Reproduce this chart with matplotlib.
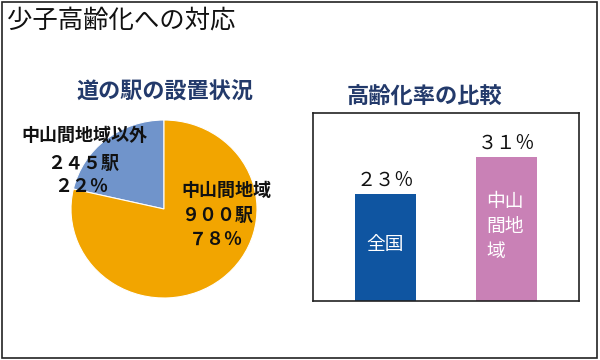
import matplotlib
matplotlib.use("Agg")
import matplotlib.pyplot as plt
from matplotlib.patches import Rectangle

plt.rcParams['font.family'] = ['Noto Sans CJK JP', 'DejaVu Sans']

# ---- data ----
title = "少子高齢化への対応"
pie_title = "道の駅の設置状況"
pie_labels = ["中山間地域以外", "中山間地域"]
pie_counts = [245, 900]
pie_count_text = ["２４５駅", "９００駅"]
pie_pct_text = ["２２％", "７８％"]
pie_colors = ["#7094CB", "#F2A500"]

bar_title = "高齢化率の比較"
bar_cats = ["全国", "中山\n間地\n域"]
bar_values = [23, 31]
bar_value_text = ["２３％", "３１％"]
bar_colors = ["#0F55A1", "#C981B6"]

W, H = 600, 360
fig = plt.figure(figsize=(6, 3.6), dpi=100)

def fx(px):
    return px / W

def fy(py):
    return 1 - py / H

# outer frame
fig.patches.append(Rectangle((fx(1.5), fy(357.5)), fx(595.5), 356 / H,
                             transform=fig.transFigure, fill=False,
                             edgecolor="#222222", linewidth=1.2))

fig.text(fx(7), fy(21), title, fontsize=18.3, color="#111111",
         ha="left", va="center")

# ---- pie ----
cx, cy, rx, ry = 164, 209, 93, 89
axp = fig.add_axes([fx(cx - rx), fy(cy + ry), 2 * rx / W, 2 * ry / H])
axp.pie(pie_counts, colors=pie_colors, startangle=90, counterclock=True,
        wedgeprops=dict(edgecolor="white", linewidth=0.8))
axp.set_aspect('auto')
axp.set_xlim(-1, 1)
axp.set_ylim(-1, 1)
axp.axis('off')

fig.text(fx(165), fy(92), pie_title, fontsize=15.9, fontweight='bold',
         color="#233A6B", ha="center", va="center")

fs = 13
fig.text(fx(21), fy(135), pie_labels[0], fontsize=fs, fontweight='bold',
         color="#111111", ha="left", va="center")
fig.text(fx(47), fy(163), pie_count_text[0], fontsize=fs, fontweight='bold',
         color="#111111", ha="left", va="center")
fig.text(fx(54), fy(186), pie_pct_text[0], fontsize=fs, fontweight='bold',
         color="#111111", ha="left", va="center")

fig.text(fx(181), fy(190), pie_labels[1], fontsize=fs, fontweight='bold',
         color="#111111", ha="left", va="center")
fig.text(fx(182), fy(215), pie_count_text[1], fontsize=fs, fontweight='bold',
         color="#111111", ha="left", va="center")
fig.text(fx(216), fy(239), pie_pct_text[1], fontsize=fs, fontweight='bold',
         color="#111111", ha="center", va="center")

# ---- bars ----
bl, bt, br, bb = 313, 113, 579, 301
axb = fig.add_axes([fx(bl), fy(bb), (br - bl) / W, (bb - bt) / H])
xs = list(range(len(bar_values)))
axb.bar(xs, bar_values, width=0.5, color=bar_colors, zorder=2)
axb.set_xlim(-0.6, 1.6)
axb.set_ylim(0, 40.4)
axb.set_xticks([])
axb.set_yticks([])
for sp in axb.spines.values():
    sp.set_color("#222222")
    sp.set_linewidth(1.2)

for x, v, t in zip(xs, bar_values, bar_value_text):
    axb.annotate(t, (x, v), xytext=(0, 2.5), textcoords="offset points",
                 ha="center", va="bottom", fontsize=13.8, color="#111111")

axb.text(xs[0], 12.2, bar_cats[0], ha="center", va="center",
         fontsize=13.5, color="white")
axb.text(xs[1] - 0.17, 16.0, bar_cats[1], ha="left", va="center",
         fontsize=13.5, color="white", linespacing=1.25)

fig.text(fx(425), fy(97), bar_title, fontsize=16, fontweight='bold',
         color="#233A6B", ha="center", va="center")

fig.savefig("out.png", dpi=100, facecolor="white")
